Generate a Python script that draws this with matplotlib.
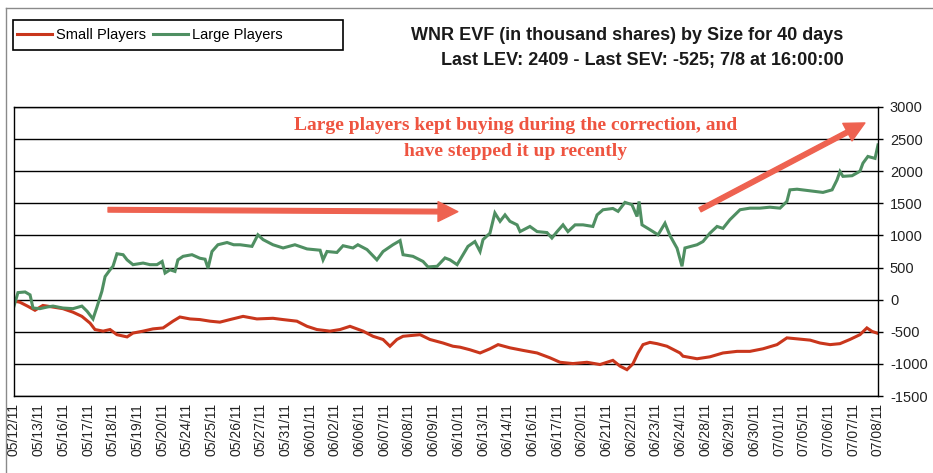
import matplotlib
matplotlib.use("Agg")
import matplotlib.pyplot as plt
from matplotlib.lines import Line2D
from matplotlib.patches import Rectangle

plt.rcParams["axes.unicode_minus"] = False

# ---------------- data ----------------
dates = ["05/12/11", "05/13/11", "05/16/11", "05/17/11", "05/18/11", "05/19/11",
         "05/20/11", "05/24/11", "05/25/11", "05/26/11", "05/27/11", "05/31/11",
         "06/01/11", "06/02/11", "06/06/11", "06/07/11", "06/08/11", "06/09/11",
         "06/10/11", "06/13/11", "06/14/11", "06/16/11", "06/17/11", "06/20/11",
         "06/21/11", "06/22/11", "06/23/11", "06/24/11", "06/28/11", "06/29/11",
         "06/30/11", "07/01/11", "07/05/11", "07/06/11", "07/07/11", "07/08/11"]

# time in trading-day units (0 = first label) and EVF values (thousand shares)
large_t = [0.00, 0.16, 0.45, 0.65, 0.77, 1.05, 1.34, 1.58, 1.98, 2.39, 2.75, 2.96,
           3.20, 3.36, 3.56, 3.69, 3.89, 4.01, 4.17, 4.42, 4.58, 4.82, 5.23, 5.51,
           5.79, 6.00, 6.12, 6.32, 6.52, 6.64, 6.85, 7.21, 7.53, 7.74, 7.86, 8.02,
           8.26, 8.63, 8.90, 9.16, 9.64, 9.88, 10.09, 10.49, 10.90, 11.38, 11.87,
           12.40, 12.52, 12.68, 13.08, 13.33, 13.73, 13.93, 14.30, 14.70, 14.95,
           15.35, 15.64, 15.76, 16.16, 16.57, 16.77, 17.14, 17.46, 17.66, 17.95,
           18.15, 18.39, 18.67, 18.88, 19.00, 19.28, 19.48, 19.69, 19.89, 20.09,
           20.38, 20.50, 20.90, 21.19, 21.59, 21.79, 22.00, 22.24, 22.44, 22.73,
           23.05, 23.45, 23.62, 23.86, 24.26, 24.47, 24.75, 25.03, 25.24, 25.32,
           25.44, 25.76, 26.09, 26.37, 26.57, 26.86, 27.06, 27.18, 27.67, 27.91,
           28.19, 28.48, 28.72, 29.00, 29.41, 29.81, 30.22, 30.62, 31.03, 31.31,
           31.43, 31.72, 32.25, 32.77, 33.14, 33.34, 33.46, 33.58, 33.95, 34.27,
           34.39, 34.59, 34.88, 35.00]
large_v = [-100, 110, 120, 75, -130, -140, -115, -100, -130, -140, -100, -180,
           -300, -115, 130, 360, 465, 520, 715, 700, 620, 545, 570, 545,
           545, 595, 415, 465, 440, 620, 675, 700, 645, 630, 490, 750,
           855, 890, 855, 855, 830, 1010, 935, 855, 805, 855, 790,
           770, 620, 750, 735, 840, 805, 855, 780, 620, 750,
           855, 920, 700, 675, 595, 510, 520, 650, 620, 545,
           675, 830, 905, 750, 935, 1035, 1350, 1220, 1320, 1220,
           1165, 1060, 1140, 1060, 1045, 960, 1060, 1165, 1060, 1165,
           1165, 1140, 1320, 1400, 1420, 1375, 1515, 1480, 1295, 1530,
           1165, 1090, 1010, 1190, 1000, 800, 520, 805, 855, 905,
           1035, 1140, 1110, 1245, 1400, 1425, 1425, 1440, 1425, 1530,
           1710, 1720, 1695, 1670, 1710, 1865, 1995, 1920, 1930, 2000,
           2125, 2230, 2200, 2409]

small_t = [0.00, 0.24, 0.57, 0.85, 1.17, 1.58, 1.98, 2.39, 2.75, 3.08, 3.28, 3.61,
           3.89, 4.17, 4.58, 4.82, 5.23, 5.63, 6.04, 6.44, 6.72, 7.13, 7.53, 7.94,
           8.34, 8.75, 9.28, 9.84, 10.49, 10.90, 11.46, 11.87, 12.27, 12.80, 13.21,
           13.61, 14.14, 14.54, 14.95, 15.23, 15.51, 15.76, 16.45, 16.85, 17.38,
           17.78, 18.07, 18.47, 18.88, 19.28, 19.61, 20.09, 20.62, 21.19, 21.71,
           22.12, 22.64, 23.21, 23.74, 24.26, 24.55, 24.83, 25.07, 25.28, 25.48,
           25.76, 26.05, 26.45, 26.98, 27.10, 27.67, 28.19, 28.72, 29.29, 29.81,
           30.34, 30.91, 31.31, 31.72, 32.25, 32.65, 33.06, 33.46, 33.86, 34.27,
           34.55, 34.76, 35.00]
small_v = [-20, -40, -105, -165, -90, -115, -140, -195, -260, -365, -465, -490,
           -465, -545, -580, -520, -490, -455, -440, -335, -270, -300, -310, -335,
           -350, -310, -260, -300, -290, -310, -335, -415, -465, -490, -465,
           -415, -490, -570, -620, -725, -620, -570, -545, -620, -675,
           -725, -740, -780, -830, -765, -700, -750, -790, -830, -905,
           -975, -995, -975, -1010, -945, -1035, -1090, -1000, -830, -700,
           -665, -685, -725, -830, -880, -920, -890, -830, -805, -805,
           -765, -700, -595, -610, -630, -675, -700, -685, -620, -545,
           -440, -495, -525]

y_ticks = list(range(-1500, 3001, 500))

# ---------------- style ----------------
RED = "#C9361C"
GREEN = "#4F8F62"
NOTE = "#EE5440"
W, H = 933, 473

fig = plt.figure(figsize=(W / 100, H / 100), dpi=100)
fig.patch.set_facecolor("white")

ax = fig.add_axes([14 / W, 1 - 396 / H, (878 - 14) / W, (396 - 107) / H])
ax.plot(small_t, small_v, color=RED, lw=2.2, solid_joinstyle="miter")
ax.plot(large_t, large_v, color=GREEN, lw=2.2, solid_joinstyle="miter")

ax.set_xlim(0, 35)
ax.set_ylim(-1500, 3000)
ax.set_yticks(y_ticks)
ax.yaxis.tick_right()
ax.grid(axis="y", color="black", lw=1.0)
ax.set_axisbelow(True)
ax.set_xticks(range(len(dates)))
ax.set_xticklabels(dates, rotation=90, fontsize=10, family="Liberation Sans",
                   color="#222222")
ax.tick_params(axis="x", length=0, pad=5)
ax.tick_params(axis="y", direction="out", length=3.6, width=1, pad=5,
               labelsize=10.5, labelcolor="#222222")
for lab in ax.get_yticklabels():
    lab.set_family("Liberation Sans")
for s in ax.spines.values():
    s.set_color("black")
    s.set_linewidth(1.0)

# annotation text and arrows
fig.text(516 / W, 1 - 125 / H, "Large players kept buying during the correction, and",
         ha="center", va="center", fontsize=14, fontweight="bold",
         family="Liberation Serif", color=NOTE)
fig.text(516 / W, 1 - 152 / H, "have stepped it up recently",
         ha="center", va="center", fontsize=14, fontweight="bold",
         family="Liberation Serif", color=NOTE)
arrow_kw = dict(arrowstyle="simple,head_length=0.95,head_width=0.95,tail_width=0.22",
                color="#EE6250", shrinkA=0, shrinkB=0, mutation_scale=15)
ax.annotate("", xy=(17.98, 1370), xytext=(3.81, 1400), arrowprops=arrow_kw)
ax.annotate("", xy=(34.47, 2752), xytext=(27.79, 1400), arrowprops=arrow_kw,
            annotation_clip=False)

# titles
fig.text(627 / W, 1 - 35 / H, "WNR EVF (in thousand shares) by Size for 40 days",
         ha="center", va="center", fontsize=13, fontweight="bold",
         family="Liberation Sans", color="#1a1a1a")
fig.text(642 / W, 1 - 60 / H, "Last LEV: 2409 - Last SEV: -525; 7/8 at 16:00:00",
         ha="center", va="center", fontsize=13, fontweight="bold",
         family="Liberation Sans", color="#1a1a1a")

# legend box
fig.add_artist(Rectangle((13 / W, 1 - 50 / H), 330 / W, 30 / H, fill=False,
                         ec="black", lw=1.2, transform=fig.transFigure))
handles = [Line2D([], [], color=RED, lw=2.2, label="Small Players"),
           Line2D([], [], color=GREEN, lw=2.2, label="Large Players")]
fig.legend(handles=handles, loc="center left", bbox_to_anchor=(17 / W, 1 - 35 / H),
           ncol=2, frameon=False, prop={"family": "Liberation Sans", "size": 10.5},
           handlelength=2.4, handletextpad=0.25, columnspacing=0.5,
           borderaxespad=0, borderpad=0)

# outer frame (top and left edges)
fig.add_artist(Line2D([6 / W, 6 / W], [0, 1 - 8 / H], transform=fig.transFigure,
                      color="#8a8a8a", lw=1))
fig.add_artist(Line2D([6 / W, 1], [1 - 8 / H, 1 - 8 / H], transform=fig.transFigure,
                      color="#8a8a8a", lw=1))

fig.savefig("out.png", dpi=100)
